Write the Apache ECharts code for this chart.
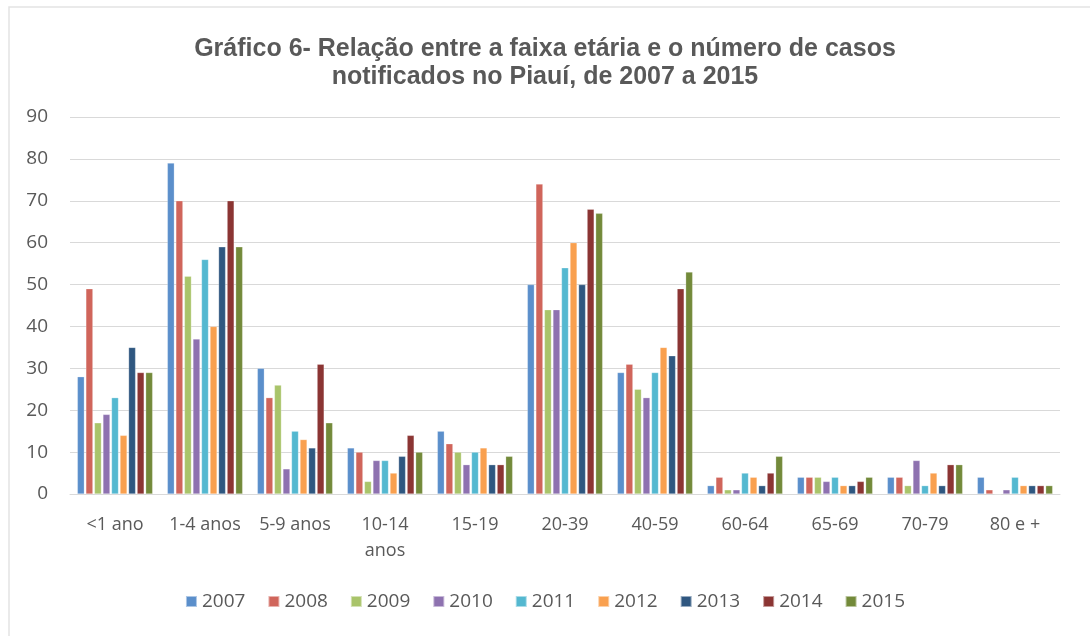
<!DOCTYPE html>
<html>
<head>
<meta charset="utf-8">
<script src="https://cdn.jsdelivr.net/npm/echarts@6/dist/echarts.min.js"></script>
<style>
  html, body { margin: 0; padding: 0; background: #fff; }
  #chart { width: 1090px; height: 636px; }
</style>
</head>
<body>
<div id="chart"></div>
<script>
const categories = ["<1 ano", "1-4 anos", "5-9 anos", "10-14 anos", "15-19", "20-39", "40-59", "60-64", "65-69", "70-79", "80 e +"];
const years = ["2007", "2008", "2009", "2010", "2011", "2012", "2013", "2014", "2015"];
const yTicks = [0, 10, 20, 30, 40, 50, 60, 70, 80, 90];

// casos por faixa etária, uma lista por ano
const v2007 = [28, 79, 30, 11, 15, 50, 29, 2, 4, 4, 4];
const v2008 = [49, 70, 23, 10, 12, 74, 31, 4, 4, 4, 1];
const v2009 = [17, 52, 26, 3, 10, 44, 25, 1, 4, 2, 0];
const v2010 = [19, 37, 6, 8, 7, 44, 23, 1, 3, 8, 1];
const v2011 = [23, 56, 15, 8, 10, 54, 29, 5, 4, 2, 4];
const v2012 = [14, 40, 13, 5, 11, 60, 35, 4, 2, 5, 2];
const v2013 = [35, 59, 11, 9, 7, 50, 33, 2, 2, 2, 2];
const v2014 = [29, 70, 31, 14, 7, 68, 49, 5, 3, 7, 2];
const v2015 = [29, 59, 17, 10, 9, 67, 53, 9, 4, 7, 2];

const values = [v2007, v2008, v2009, v2010, v2011, v2012, v2013, v2014, v2015];
const colors = ["#5B8FCB", "#D0655B", "#A9C46A", "#8E72B0", "#54B8D0", "#F9A04F", "#2F5780", "#8B3533", "#738A3A"];

const chart = echarts.init(document.getElementById("chart"));
chart.setOption({
  animation: false,
  color: colors,
  graphic: [{
    // moldura clara do gráfico
    type: "rect",
    shape: { x: 9, y: 7, width: 1100, height: 650 },
    style: { fill: "none", stroke: "#e3e3e3", lineWidth: 1.5 },
    silent: true
  }],
  title: {
    text: "Gráfico 6- Relação entre a faixa etária e o número de casos\nnotificados no Piauí, de 2007 a 2015",
    left: "center",
    top: 30,
    textStyle: {
      fontFamily: "Liberation Sans",
      fontSize: 25,
      fontWeight: "bold",
      color: "#595959",
      lineHeight: 28
    }
  },
  legend: {
    bottom: 20,
    left: "center",
    itemWidth: 11,
    itemHeight: 11,
    itemGap: 22,
    icon: "rect",
    textStyle: { fontFamily: "Open Sans", fontSize: 19, color: "#595959" },
    data: years
  },
  grid: { left: 70, right: 30, top: 117, bottom: 142 },
  xAxis: {
    type: "category",
    data: categories,
    axisTick: { show: false },
    axisLine: { lineStyle: { color: "#d9d9d9" } },
    axisLabel: {
      interval: 0,
      margin: 18,
      color: "#595959",
      fontFamily: "Open Sans",
      fontSize: 18,
      lineHeight: 26,
      formatter: function (s) { return s === "10-14 anos" ? "10-14\nanos" : s; }
    }
  },
  yAxis: {
    type: "value",
    min: yTicks[0],
    max: yTicks[yTicks.length - 1],
    interval: 10,
    axisLine: { show: false },
    axisTick: { show: false },
    axisLabel: { color: "#595959", fontFamily: "Open Sans", fontSize: 19, margin: 22 },
    splitLine: { lineStyle: { color: "#d9d9d9" } }
  },
  series: years.map(function (y, i) {
    return {
      name: y,
      type: "bar",
      data: values[i],
      barWidth: 7,
      barGap: "22%",
      itemStyle: { borderColor: "rgba(255,255,255,0.5)", borderWidth: 0.5 }
    };
  })
});
</script>
</body>
</html>
